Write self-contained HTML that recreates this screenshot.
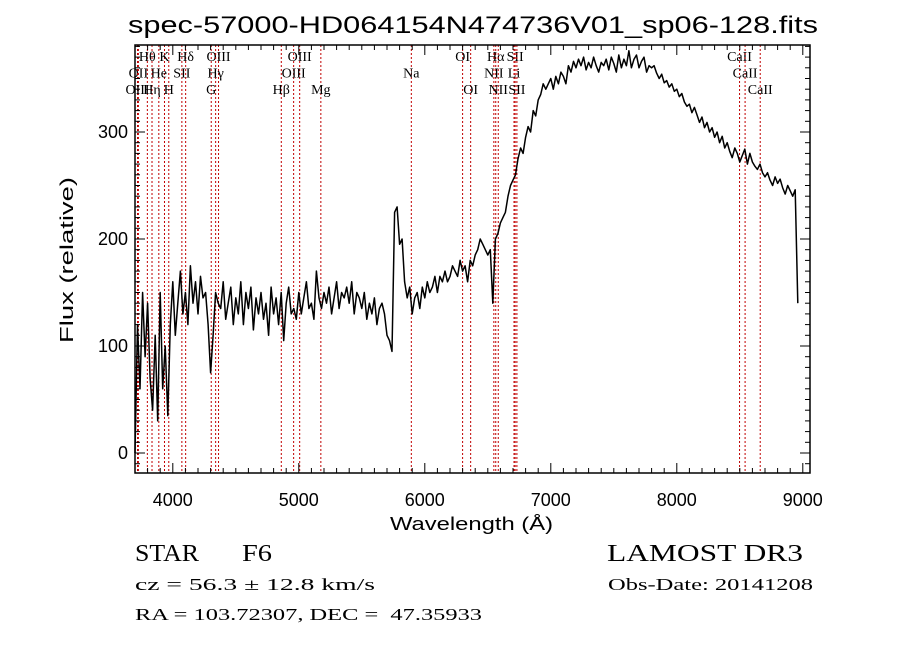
<!DOCTYPE html>
<html><head><meta charset="utf-8"><style>
html,body{margin:0;padding:0;background:#fff;width:900px;height:649px;overflow:hidden}
svg text{font-family:"Liberation Serif","DejaVu Serif",serif;fill:#000}
svg text.sans{font-family:"Liberation Sans","DejaVu Sans",sans-serif}
</style></head><body>
<svg id="chart" width="900" height="649" viewBox="0 0 900 649" xmlns="http://www.w3.org/2000/svg">
<rect width="900" height="649" fill="#fff"/>
<text class="sans" x="128" y="33" font-size="24" textLength="690" lengthAdjust="spacingAndGlyphs">spec-57000-HD064154N474736V01_sp06-128.fits</text>
<text class="sans" x="390" y="530" font-size="18" textLength="163" lengthAdjust="spacingAndGlyphs">Wavelength (Å)</text>
<text class="sans" transform="translate(73,343) rotate(-90)" font-size="18" textLength="166" lengthAdjust="spacingAndGlyphs">Flux (relative)</text>
<text x="135" y="561" font-size="24" textLength="64" lengthAdjust="spacingAndGlyphs">STAR</text>
<text x="242" y="561" font-size="24" textLength="30" lengthAdjust="spacingAndGlyphs">F6</text>
<text x="607" y="561" font-size="24" textLength="196" lengthAdjust="spacingAndGlyphs">LAMOST DR3</text>
<text x="135" y="590" font-size="17" textLength="240" lengthAdjust="spacingAndGlyphs">cz = 56.3 ± 12.8 km/s</text>
<text x="608" y="590" font-size="17" textLength="205" lengthAdjust="spacingAndGlyphs">Obs-Date: 20141208</text>
<text x="135" y="620" font-size="17" textLength="347" lengthAdjust="spacingAndGlyphs" xml:space="preserve">RA = 103.72307, DEC =  47.35933</text>
<g id="plot"></g>
</svg>
<script>
const wlStart = 3700;
const wlStep = 20;
const flux = [
0,120,60,150,90, 140,70,40,110,30, 150,60,100,35,120,
160,110,140,170,130, 150,120,175,140,160, 130,165,145,150,120,
75,110,150,140,135, 160,125,140,155,120, 145,130,160,120,150,
135,155,115,145,130, 150,125,140,110,155, 130,145,120,150,105,
140,155,130,135,125, 150,130,145,160,135, 140,125,170,145,135,
150,140,155,130,145, 160,135,150,145,155, 140,160,130,150,145,
135,150,125,140,130, 145,120,135,140,130, 110,105,95,225,230,
195,200,160,145,155, 130,145,150,135,155, 145,160,150,155,165,
150,165,160,170,160, 165,175,170,165,180, 170,175,160,180,175,
185,190,200,195,190, 185,190,140,200,205, 215,220,225,240,250,
255,260,275,285,280, 295,305,300,320,315, 330,335,345,340,345,
350,340,352,345,356, 352,345,362,356,366, 360,368,362,370,358,
365,360,370,362,356, 365,362,368,358,370, 364,356,372,360,368,
362,376,360,368,372, 360,366,370,356,362, 360,362,355,350,354,
346,348,342,345,338, 340,333,336,328,324, 326,318,323,316,309,
314,304,309,300,304, 295,300,290,296,285, 290,282,276,285,280,
272,278,284,270,280, 272,268,265,270,262, 258,262,255,250,258,
252,256,248,242,250, 245,240,246,140
];
const lineWaves = [3798,3934,4102,4363,5007,3727,3889,4072,4340,4959,3720,3835,3968,4305,4861,5175,6300,6563,6717,8498,5893,6548,6708,8542,6364,6583,6731,8662];
const lineLabels = ["Hθ","K","Hδ","OIII","OIII","OII","He","SII","Hγ","OIII","OIII","Hη","H","G","Hβ","Mg","OI","Hα","SII","CaII","Na","NII","Li","CaII","OI","NII","SII","CaII"];
const lineRows = [0,0,0,0,0,1,1,1,1,1,2,2,2,2,2,2,0,0,0,0,1,1,1,1,2,2,2,2];
const xTicks = [4000,5000,6000,7000,8000,9000];
const yTicks = [0,100,200,300];

const L=135,R=810,T=45,B=473;
const xs = w => L + (w-3700)*0.126;
const ys = v => 453 - 1.07*v;
const NS="http://www.w3.org/2000/svg";
const g=document.getElementById('plot');
function mk(tag,attrs){const e=document.createElementNS(NS,tag);for(const k in attrs)e.setAttribute(k,attrs[k]);g.appendChild(e);return e;}

lineWaves.forEach((w,i)=>{
  const l=mk('line',{x1:xs(w),x2:xs(w),y1:T,y2:B,stroke:'#c00000','stroke-width':1,'stroke-dasharray':'2,2'});
  
  
  const t=mk('text',{x:xs(w),y:61+lineRows[i]*16.5,'font-size':14,'text-anchor':'middle'});
  t.textContent=lineLabels[i];
  
  
});

let d='';
flux.forEach((v,i)=>{const x=xs(wlStart+i*wlStep),y=Math.max(T,Math.min(B,ys(v)));d+=(i?'L':'M')+x.toFixed(1)+','+y.toFixed(1);});
const p=mk('path',{d:d,fill:'none',stroke:'#000','stroke-width':1.5,'stroke-linejoin':'round'});



const f=mk('rect',{x:L,y:T,width:R-L,height:B-T,fill:'none',stroke:'#000','stroke-width':1.5});



for(let w=3800;w<=9000;w+=100){
  const x=xs(w),len=(w%1000===0)?10:5;
  mk('line',{x1:x,x2:x,y1:B,y2:B-len,stroke:'#000'});
  mk('line',{x1:x,x2:x,y1:T,y2:T+len,stroke:'#000'});
}
xTicks.forEach(w=>{
  const t=mk('text',{x:xs(w),y:506,'font-size':18,'text-anchor':'middle','class':'sans'});
  t.textContent=w;
  
  
});
for(let v=-10;v<=400;v+=10){
  const y=ys(v),len=(v%100===0)?10:5;
  if(y<T||y>B)continue;
  mk('line',{x1:L,x2:L+len,y1:y,y2:y,stroke:'#000'});
  mk('line',{x1:R,x2:R-len,y1:y,y2:y,stroke:'#000'});
}
yTicks.forEach(v=>{
  const t=mk('text',{x:128,y:ys(v)+6,'font-size':18,'text-anchor':'end','class':'sans'});
  t.textContent=v;
  
  
});
</script>
</body></html>
